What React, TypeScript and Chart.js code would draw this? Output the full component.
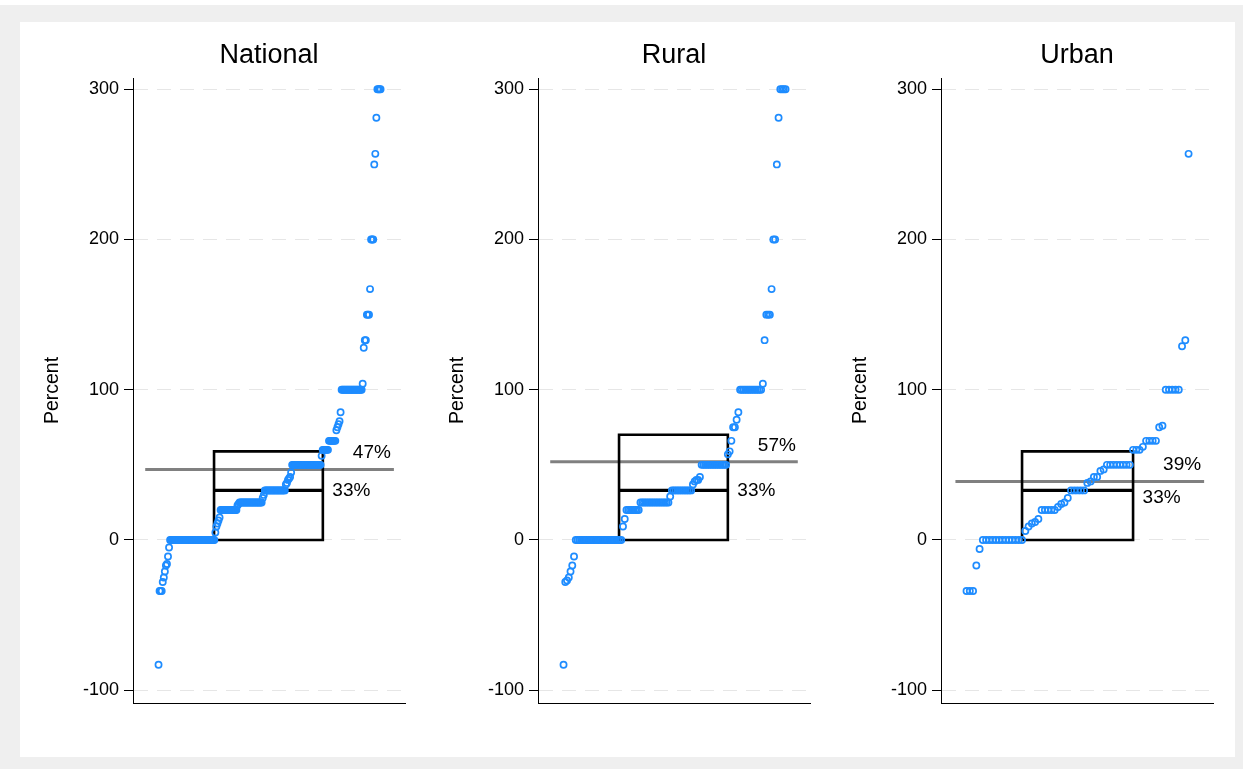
import React, { useEffect, useRef } from "react";
import { Chart, registerables } from "chart.js";

Chart.register(...registerables);

// ---- data ----
const panelTitles = ["National", "Rural", "Urban"];

// sorted values as (value, how many times it occurs)
const nationalLevels = [-83, -34, -28, -25, -21, -17, -16, -11, -5, 0, 5, 9, 11, 13, 15, 20, 23, 24, 25, 28, 30, 33, 37, 38, 40, 41, 42, 45, 50, 56, 60, 66, 73, 75, 77, 79, 85, 100, 104, 128, 133, 150, 167, 200, 250, 257, 281, 300];
const nationalCounts = [1, 3, 1, 1, 1, 1, 1, 1, 1, 43, 1, 1, 1, 1, 1, 16, 1, 1, 22, 1, 1, 20, 1, 1, 1, 1, 1, 1, 28, 1, 6, 7, 1, 1, 1, 1, 1, 20, 1, 1, 2, 3, 1, 3, 1, 1, 1, 4];

const ruralLevels = [-83, -28, -27, -25, -21, -17, -11, 0, 9, 14, 20, 25, 29, 33, 37, 39, 40, 42, 50, 57, 59, 66, 75, 80, 85, 100, 104, 133, 150, 167, 200, 250, 281, 300];
const ruralCounts = [1, 1, 1, 1, 1, 1, 1, 27, 1, 1, 8, 17, 1, 12, 1, 1, 2, 1, 15, 1, 1, 1, 2, 1, 1, 13, 1, 1, 3, 1, 2, 1, 1, 4];

const urbanLevels = [-34, -17, -6, 0, 6, 9, 11, 12, 14, 20, 22, 24, 25, 28, 33, 38, 39, 42, 46, 47, 50, 60, 62, 66, 75, 76, 100, 129, 133, 257];
const urbanCounts = [3, 1, 1, 13, 1, 1, 1, 1, 1, 5, 1, 1, 1, 1, 5, 1, 1, 2, 1, 1, 8, 3, 1, 4, 1, 1, 5, 1, 1, 1];

const boxLowValues = [0, 0, 0];
const boxHighValues = [59, 70, 59];
const boxLeftQuantile = [0.25, 0.25, 0.25];
const boxRightQuantile = [0.74, 0.74, 0.75];
const medianValues = [33, 33, 33];
const medianLabels = ["33%", "33%", "33%"];
const meanValues = [47, 52, 39];
const meanLabels = ["47%", "57%", "39%"];
const meanLineStart = [-0.06, -0.06, -0.05];
const meanLineEnd = [1.06, 1.055, 1.07];

const yTickValues = [-100, 0, 100, 200, 300];
const yTickLabels = ["-100", "0", "100", "200", "300"];
const yAxisTitle = "Percent";

// ---- styling / layout (not data) ----
const FONT = '"Liberation Sans", Arial, Helvetica, sans-serif';
const BLUE = "#1e8cff";
const canvasLefts = [20, 425, 828];
const medianLabelShift = [0, 0, 7];
const CW = 405;
const CH = 735;

function expand(levels: number[], counts: number[]): number[] {
  const out: number[] = [];
  levels.forEach((v, i) => {
    for (let k = 0; k < counts[i]; k++) out.push(v);
  });
  return out;
}

const panelValues = [
  expand(nationalLevels, nationalCounts),
  expand(ruralLevels, ruralCounts),
  expand(urbanLevels, urbanCounts),
];

const textPlugin = {
  id: "panelText",
  afterDatasetsDraw(chart: any, _args: any, opts: any) {
    const p = opts.panel as number;
    const { ctx, chartArea, scales } = chart;
    ctx.save();
    ctx.fillStyle = "#000";
    ctx.textBaseline = "middle";
    ctx.textAlign = "center";
    ctx.font = `27px ${FONT}`;
    ctx.fillText(panelTitles[p], (chartArea.left + chartArea.right) / 2, chartArea.top - 22);

    ctx.save();
    ctx.translate(chartArea.left - 80.5, (chartArea.top + chartArea.bottom) / 2);
    ctx.rotate(-Math.PI / 2);
    ctx.font = `19.5px ${FONT}`;
    ctx.fillText(yAxisTitle, 0, 0);
    ctx.restore();

    const xr = scales.x.getPixelForValue(boxRightQuantile[p]);
    ctx.textAlign = "left";
    ctx.font = `19px ${FONT}`;
    ctx.fillText(meanLabels[p], xr + 30, scales.y.getPixelForValue(meanValues[p]) - 16.5);
    ctx.fillText(medianLabels[p], xr + 9.5, scales.y.getPixelForValue(medianValues[p]) + medianLabelShift[p]);
    ctx.restore();
  },
};

function Panel({ p }: { p: number }) {
  const ref = useRef<HTMLCanvasElement | null>(null);
  useEffect(() => {
    if (!ref.current) return;
    const vals = panelValues[p];
    const n = vals.length;
    const points = vals.map((v, i) => ({ x: i / (n - 1), y: v }));
    const bl = boxLeftQuantile[p];
    const br = boxRightQuantile[p];
    const chart = new Chart(ref.current, {
      type: "scatter",
      data: {
        datasets: [
          {
            data: points,
            order: 0,
            pointRadius: 3.1,
            pointBorderWidth: 1.7,
            pointBorderColor: BLUE,
            pointBackgroundColor: "rgba(0,0,0,0)",
            showLine: false,
          },
          {
            data: [
              { x: bl, y: boxLowValues[p] },
              { x: bl, y: boxHighValues[p] },
              { x: br, y: boxHighValues[p] },
              { x: br, y: boxLowValues[p] },
              { x: bl, y: boxLowValues[p] },
            ],
            order: 2,
            showLine: true,
            pointRadius: 0,
            borderColor: "#000",
            borderWidth: 2.6,
            borderJoinStyle: "miter",
            borderCapStyle: "square",
            fill: false,
          },
          {
            data: [
              { x: bl, y: medianValues[p] },
              { x: br, y: medianValues[p] },
            ],
            order: 1,
            showLine: true,
            pointRadius: 0,
            borderColor: "#000",
            borderWidth: 3.4,
            fill: false,
          },
          {
            data: [
              { x: meanLineStart[p], y: meanValues[p] },
              { x: meanLineEnd[p], y: meanValues[p] },
            ],
            order: 3,
            showLine: true,
            pointRadius: 0,
            borderColor: "#808080",
            borderWidth: 3,
            fill: false,
          },
        ] as any,
      },
      options: {
        animation: false,
        responsive: false,
        maintainAspectRatio: false,
        events: [],
        layout: { padding: { top: 56, right: 20, bottom: 54, left: 0 } },
        plugins: {
          legend: { display: false },
          tooltip: { enabled: false },
          title: { display: false },
          panelText: { panel: p },
        } as any,
        scales: {
          x: {
            type: "linear",
            min: -0.115,
            max: 1.11,
            ticks: { display: false },
            grid: { display: false, drawTicks: false },
            border: { display: true, color: "#000", width: 1 },
            afterFit: (s: any) => {
              s.height = 0;
            },
          },
          y: {
            type: "linear",
            min: -108.5,
            max: 307.5,
            afterBuildTicks: (s: any) => {
              s.ticks = yTickValues.map((v) => ({ value: v }));
            },
            afterFit: (s: any) => {
              s.width = 113;
            },
            ticks: {
              color: "#000",
              padding: 5,
              font: { family: FONT, size: 18 },
              callback: (v: any) => {
                const i = yTickValues.indexOf(Number(v));
                return i >= 0 ? yTickLabels[i] : "";
              },
            },
            grid: {
              color: "#e6e6e6",
              lineWidth: 1,
              drawTicks: true,
              tickLength: 9,
              tickColor: "#000",
              tickWidth: 1,
            },
            border: { display: true, color: "#000", width: 1, dash: [14, 9] },
          },
        },
      } as any,
      plugins: [textPlugin as any],
    });
    return () => chart.destroy();
  }, [p]);
  return (
    <canvas
      ref={ref}
      width={CW}
      height={CH}
      style={{ position: "absolute", left: canvasLefts[p], top: 22, width: CW, height: CH }}
    />
  );
}

export default function App() {
  return (
    <div style={{ position: "fixed", left: 0, top: 0, width: 1243, height: 769, background: "#fff" }}>
      <div style={{ position: "absolute", left: 0, top: 5, width: 1243, height: 764, background: "#efefef" }} />
      <div style={{ position: "absolute", left: 20, top: 22, width: 1215, height: 735, background: "#fff" }} />
      {[0, 1, 2].map((p) => (
        <Panel key={p} p={p} />
      ))}
    </div>
  );
}
